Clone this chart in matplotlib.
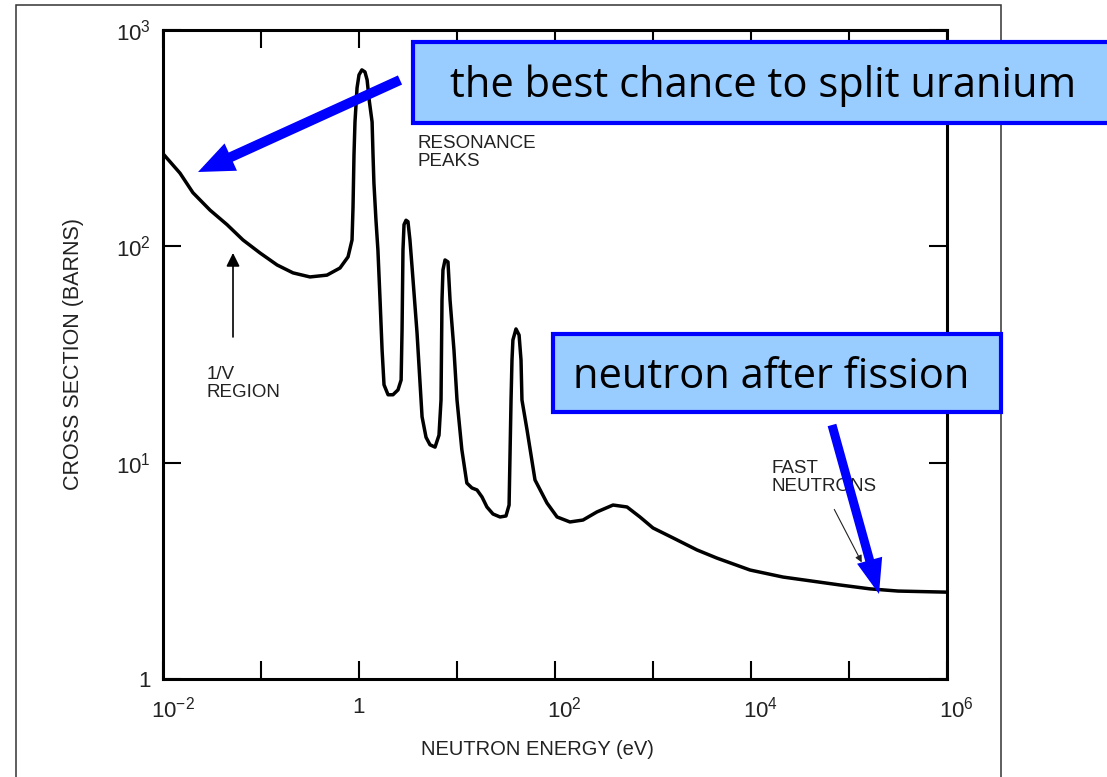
import matplotlib
matplotlib.use("Agg")
import matplotlib.pyplot as plt
from matplotlib.patches import Rectangle, FancyArrow
from matplotlib.ticker import NullLocator
from matplotlib.transforms import IdentityTransform, ScaledTranslation

plt.rcParams["font.family"] = ["Liberation Sans", "DejaVu Sans"]
plt.rcParams["mathtext.default"] = "regular"

# Wirkungsquerschnitt
energy_ev = [0.0100, 0.0149, 0.0202, 0.0302, 0.0450, 0.0655, 0.0977, 0.146, 0.212, 0.316,
             0.471, 0.640, 0.773, 0.849, 0.869, 0.889, 0.910, 0.955, 1.00, 1.07,
             1.15, 1.21, 1.27, 1.36, 1.39, 1.42, 1.49, 1.56, 1.64, 1.72,
             1.80, 1.98, 2.22, 2.50, 2.69, 2.75, 2.81, 2.88, 3.02, 3.16,
             3.31, 3.48, 3.91, 4.40, 4.83, 5.30, 5.97, 6.55, 6.87, 7.03,
             7.19, 7.55, 8.09, 8.49, 9.31, 10.0, 11.2, 12.6, 14.2, 16.0,
             18.0, 20.2, 23.3, 27.5, 31.6, 34.0, 35.6, 36.4, 37.2, 40.0,
             43.0, 45.0, 46.0, 51.8, 62.5, 82.8, 105, 142, 193, 268,
             391, 543, 736, 1000, 1600, 2810, 4500, 9770, 21200, 80900,
             164000, 316000, 1.0e6]
cross_section_barns = [268, 218, 177, 147, 126, 107, 93.2, 82.0, 75.4, 72.2,
                       73.6, 79.4, 89.4, 107, 152, 265, 376, 540, 620, 654,
                       640, 588, 475, 376, 265, 196, 132, 96, 56.5, 33.2,
                       22.9, 20.6, 20.6, 21.7, 24.1, 41.1, 96, 126, 132, 130,
                       107, 80, 39.8, 16.3, 13.1, 12.1, 11.8, 13.4, 19.5, 56.5,
                       77.8, 86.5, 84.7, 56.5, 33.2, 19.5, 11.5, 8.05, 7.64, 7.48,
                       6.94, 6.24, 5.79, 5.61, 5.67, 6.37, 19.5, 29.8, 36.9, 41.5,
                       38.9, 29.8, 19.5, 14.2, 8.32, 6.51, 5.61, 5.32, 5.43, 5.92,
                       6.37, 6.24, 5.61, 4.99, 4.49, 3.95, 3.62, 3.19, 2.96, 2.72,
                       2.61, 2.55, 2.52]

x_ticks = [1e-2, 1e-1, 1, 1e1, 1e2, 1e3, 1e4, 1e5, 1e6]
x_tick_labels = ["$10^{-2}$", "", "1", "", "$10^{2}$", "", "$10^{4}$", "", "$10^{6}$"]
y_ticks = [1, 10, 100, 1000]
y_tick_labels = ["1", "$10^{1}$", "$10^{2}$", "$10^{3}$"]

W, H = 1107, 777
fig = plt.figure(figsize=(W / 100, H / 100), dpi=100)
ax = fig.add_axes([163 / W, 98 / H, 784 / W, 649 / H])

ax.plot(energy_ev, cross_section_barns, color="black", lw=2.5,
        solid_joinstyle="round", solid_capstyle="round")
ax.set_xscale("log")
ax.set_yscale("log")
ax.set_xlim(1e-2, 1e6)
ax.set_ylim(1, 1e3)

ax.set_xticks(x_ticks)
ax.set_xticklabels(x_tick_labels)
ax.set_yticks(y_ticks)
ax.set_yticklabels(y_tick_labels)
ax.xaxis.set_minor_locator(NullLocator())
ax.yaxis.set_minor_locator(NullLocator())
ax.tick_params(which="major", direction="in", length=13, width=1.5,
               top=True, right=True, labelsize=16, labelcolor="#222", pad=9)
ax.tick_params(axis="x", pad=13)
for sp in ax.spines.values():
    sp.set_linewidth(2.2)

# Exponenten verschieben die Beschriftung etwas nach rechts
shift = ScaledTranslation(7 / 72, 0, fig.dpi_scale_trans)
for t, lbl in zip(ax.xaxis.get_major_ticks(), x_tick_labels):
    if lbl.startswith("$"):
        t.label1.set_transform(t.label1.get_transform() + shift)

ax.set_xlabel("NEUTRON ENERGY (eV)", fontsize=14.5, color="#222")
ax.xaxis.set_label_coords((537 - 163) / 784, (679 - 740) / 649)
ax.set_ylabel("CROSS SECTION (BARNS)", fontsize=15.5, color="#222")
ax.yaxis.set_label_coords((84 - 163) / 784, 0.5)

# Beschriftungen im Diagramm
ax.text(0.325, 0.838, "RESONANCE\nPEAKS", transform=ax.transAxes,
        fontsize=13.5, color="#222", va="top", linespacing=1.05)
ax.text(0.056, 0.482, "1/V\nREGION", transform=ax.transAxes,
        fontsize=13.5, color="#222", va="top", linespacing=1.05)
ax.text(0.776, 0.337, "FAST\nNEUTRONS", transform=ax.transAxes,
        fontsize=13.5, color="#222", va="top", linespacing=1.05)
ax.annotate("", xy=(0.0518, 96), xytext=(0.0518, 37),
            arrowprops=dict(arrowstyle="-|>", color="black", lw=1.2, mutation_scale=20))
ax.annotate("", xy=(139000, 3.37), xytext=(68700, 6.24),
            arrowprops=dict(arrowstyle="-|>", color="#222", lw=0.8, mutation_scale=10))

px = IdentityTransform()

# Rahmen
fig.add_artist(Rectangle((16, -13), 985, 785, transform=px, fill=False,
                         ec="#333", lw=1.1))

# blaue Hinweise
fig.add_artist(Rectangle((413, H - 123), 710, 81, transform=px,
                         fc="#99CCFF", ec="#0000FF", lw=3, zorder=5))
fig.text(450, H - 97, "the best chance to split uranium", transform=px,
         family=["Open Sans", "DejaVu Sans"], fontsize=30, color="black",
         va="baseline", ha="left", zorder=6)
fig.add_artist(Rectangle((553, H - 412), 448, 78, transform=px,
                         fc="#99CCFF", ec="#0000FF", lw=3, zorder=5))
fig.text(573, H - 388, "neutron after fission", transform=px,
         family=["Open Sans", "DejaVu Sans"], fontsize=30, color="black",
         va="baseline", ha="left", zorder=6)

fig.add_artist(FancyArrow(400, H - 80, 198 - 400, 80 - 172, width=10,
                          head_width=30, head_length=36, length_includes_head=True,
                          transform=px, color="#0000FF", lw=0, zorder=7))
fig.add_artist(FancyArrow(832, H - 425, 879 - 832, 425 - 594, width=9,
                          head_width=26, head_length=35, length_includes_head=True,
                          transform=px, color="#0000FF", lw=0, zorder=7))

fig.savefig("out.png", dpi=100)
